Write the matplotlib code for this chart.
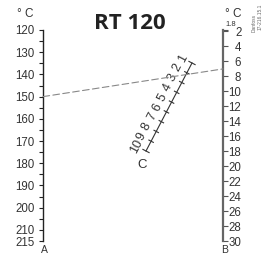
import matplotlib
matplotlib.use("Agg")
import matplotlib.pyplot as plt
import numpy as np
from matplotlib.patches import ConnectionPatch

# ---- data ----
title = "RT 120"
a_major = [120, 130, 140, 150, 160, 170, 180, 190, 200, 210, 215]
a_minor = [125, 135, 145, 155, 165, 175, 185, 195, 205]
a_limits = (215, 120)
b_ticks = [2, 4, 6, 8, 10, 12, 14, 16, 18, 20, 22, 24, 26, 28, 30]
b_top = 1.8
b_limits = (30, 1.8)
c_ticks = [1, 2, 3, 4, 5, 6, 7, 8, 9, 10]
reading_a = 150
reading_b = 7
unit = "° C"

plt.rcParams['font.family'] = ['Liberation Sans', 'DejaVu Sans']

W, H = 267, 254
fig = plt.figure(figsize=(W / 100, H / 100), dpi=100)

# ---- A (left) and B (right) scales ----
ax = fig.add_axes([43 / W, 1 - 241 / H, 180 / W, 211 / H])
ax.patch.set_visible(False)
ax.set_xlim(0, 1)
ax.set_ylim(*a_limits)
for s in ['top', 'bottom', 'right']:
    ax.spines[s].set_visible(False)
ax.spines['left'].set_color('#222222')
ax.spines['left'].set_linewidth(1.0)
ax.set_xticks([])
ax.set_yticks(a_major)
ax.set_yticks(a_minor, minor=True)
ax.tick_params(axis='y', which='both', direction='out', length=2.9, width=0.8,
               pad=3, labelsize=8.3, labelcolor='#333333', color='#222222')

ax2 = ax.twinx()
ax2.patch.set_visible(False)
ax2.set_ylim(*b_limits)
for s in ['top', 'bottom', 'left']:
    ax2.spines[s].set_visible(False)
ax2.spines['right'].set_color('#666666')
ax2.spines['right'].set_linewidth(1.6)
ax2.set_yticks([b_top] + b_ticks, labels=[''] + [str(v) for v in b_ticks])
ax2.tick_params(axis='y', direction='out', length=3.6, width=0.8, pad=9.6,
                labelsize=8.3, labelcolor='#333333', color='#555555')
plt.setp(ax2.get_yticklabels(), ha='right')
ax2.annotate(str(b_top), xy=(1, b_top), xycoords=ax2.get_yaxis_transform(),
             xytext=(13, 2), textcoords='offset pixels', ha='right', va='bottom',
             fontsize=5.5, color='#333333')

# ---- C scale (slanted) drawn in an overlay in pixel layout ----
ov = fig.add_axes([0, 0, 1, 1])
ov.set_xlim(0, W)
ov.set_ylim(H, 0)
ov.axis('off')
ov.patch.set_visible(False)

c_first = np.array([192.0, 63.0])   # layout position of first tick
c_last = np.array([146.0, 151.0])   # layout position of last tick
u = (c_last - c_first) / np.linalg.norm(c_last - c_first)
nrm = np.array([-u[1], u[0]])        # perpendicular
if nrm[0] > 0:
    nrm = -nrm                       # point to upper-left
rot = np.degrees(np.arctan2(c_last[1] - c_first[1], c_first[0] - c_last[0]))

def cpos(v):
    t = (v - c_ticks[0]) / (c_ticks[-1] - c_ticks[0])
    return c_first + t * (c_last - c_first)

p0, p1 = cpos(c_ticks[0]), cpos(c_ticks[-1])
ov.plot([p0[0], p1[0]], [p0[1], p1[1]], color='#333333', lw=0.8)
for i, v in enumerate(c_ticks):
    p = cpos(v)
    half = 3.5 if i in (0, len(c_ticks) - 1) else 2.5
    a, b = p - half * nrm, p + half * nrm
    ov.plot([a[0], b[0]], [a[1], b[1]], color='#333333', lw=0.8)
    q = p + 10.5 * nrm
    ov.text(q[0], q[1], str(v), rotation=rot, rotation_mode='anchor',
            ha='center', va='center', fontsize=9, color='#333333')
pc = p1 + np.array([-4, 14])
ov.text(pc[0], pc[1], "C", ha='center', va='center', fontsize=9.5, color='#333333')

# ---- reading line ----
con = ConnectionPatch(xyA=(0, reading_a), coordsA=ax.transData,
                      xyB=(1, reading_b), coordsB=ax2.transData,
                      color='#888888', lw=0.8, linestyle=(0, (6, 3)))
fig.add_artist(con)

# ---- texts ----
fig.text(129.5 / W, 1 - 29 / H, title, ha='center', va='baseline',
         fontsize=16, fontweight='bold', family=['Open Sans', 'DejaVu Sans'],
         color='#222222')
fig.text(17 / W, 1 - 17 / H, unit, ha='left', va='baseline', fontsize=8.5, color='#333333')
fig.text(225 / W, 1 - 17 / H, unit, ha='left', va='baseline', fontsize=8.5, color='#333333')
fig.text(44 / W, 1 - 253 / H, "A", ha='center', va='baseline', fontsize=7.5, color='#333333')
fig.text(225 / W, 1 - 253 / H, "B", ha='center', va='baseline', fontsize=7.5, color='#333333')
fig.text(254 / W, 1 - 32 / H, "Danfoss", rotation=90, ha='center', va='bottom',
         fontsize=3.5, color='#666666')
fig.text(260 / W, 1 - 30 / H, "17-216.15.1", rotation=90, ha='center', va='bottom',
         fontsize=3.5, color='#666666')

fig.savefig("out.png", dpi=100)
